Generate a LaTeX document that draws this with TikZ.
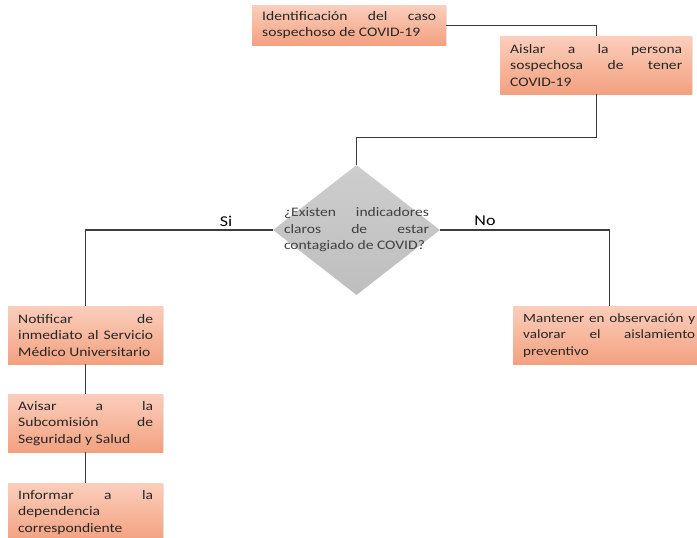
\documentclass[tikz,border=0pt]{standalone}
\usepackage{fontspec}
\setmainfont{Carlito}[FakeStretch=1.2]
\usetikzlibrary{shapes.geometric,shadows}

\definecolor{pasoarriba}{RGB}{251,206,188}
\definecolor{pasoabajo}{RGB}{243,161,128}
\definecolor{rombo}{RGB}{200,200,200}
\definecolor{linea}{RGB}{60,60,60}

\newcommand{\letrapaso}{\fontsize{13}{16.5}\selectfont\hyphenpenalty=10000
  \exhyphenpenalty=10000\tolerance=9999\emergencystretch=30pt}

\tikzset{
  paso/.style={anchor=north west, top color=pasoarriba, bottom color=pasoabajo,
    text width=#1, align=justify, inner xsep=10pt, inner ysep=5pt,
    font=\letrapaso, text=black!85,
    drop shadow={opacity=0.2, shadow xshift=1pt, shadow yshift=-1pt}},
  decision/.style={diamond, minimum width=167pt, minimum height=130pt,
    inner sep=0pt, top color=rombo!90, bottom color=rombo!95!black},
  conector/.style={draw=linea, line width=1.3pt},
  rama/.style={font=\fontsize{15}{18}\selectfont}
}

\begin{document}
\begin{tikzpicture}[x=1pt,y=-1pt]
    \useasboundingbox (0,0) rectangle (697,538);
    \node[paso=174pt, minimum height=40pt] (ident) at (252,5)
        {Identificación del caso sospechoso de COVID-19};
    \node[paso=172pt, minimum height=58pt] (aislar) at (500,36)
        {Aislar a la persona sospechosa de tener COVID-19};
    \node[decision] (dec) at (356.5,230) {};
    \node[text width=145pt, align=justify, inner sep=0pt, text=black!75,
        font=\letrapaso] (pregunta) at (dec)
        {¿Existen indicadores claros de estar contagiado de COVID?};
    \node[paso=135pt, minimum height=58pt] (notif) at (8,306)
        {Notificar de inmediato al Servicio Médico Universitario};
    \node[paso=135pt, minimum height=58pt] (avisar) at (8,394)
        {Avisar a la Subcomisión de Seguridad y Salud};
    \node[paso=135pt, minimum height=58pt] (informar) at (8,483)
        {Informar a la dependencia correspondiente};
    \node[paso=172pt, minimum height=58pt,
        font=\letrapaso\fontsize{12.6}{16.5}\selectfont] (mant) at (513,306)
        {Mantener en observación y\linebreak valorar el aislamiento preventivo};
    \node[rama] (si) at (226,221) {Si};
    \node[rama] (no) at (485,221) {No};

    \draw[conector] (ident.east) -| (aislar.north);
    \draw[conector] (aislar.south) -- ++(0,43) -| (dec.north);
    \draw[conector] (dec.west) -| (notif.north);
    \draw[conector] (dec.east) -| (mant.north);
    \draw[conector] (notif.south) -- (avisar.north);
    \draw[conector] (avisar.south) -- (informar.north);
\end{tikzpicture}
\end{document}
